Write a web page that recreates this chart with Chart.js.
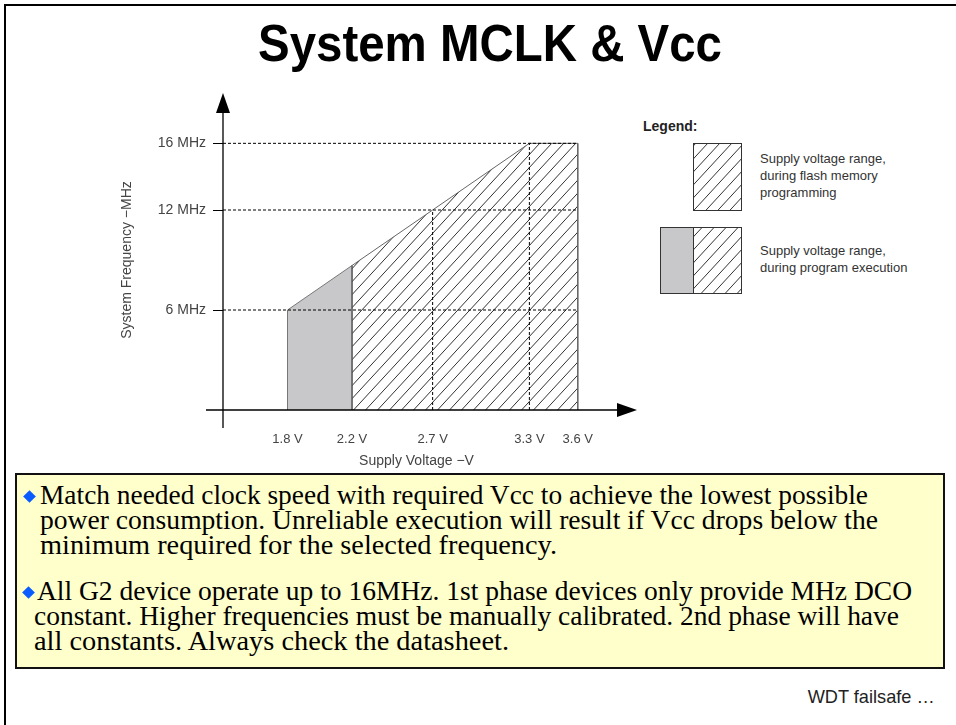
<!DOCTYPE html>
<html>
<head>
<meta charset="utf-8">
<script src="https://cdn.jsdelivr.net/npm/chart.js@4.4.1/dist/chart.umd.min.js"></script>
<style>
  html, body { margin: 0; padding: 0; background: #fff; }
  body { width: 956px; height: 725px; position: relative; overflow: hidden; font-family: "Liberation Sans", Arial, sans-serif; }
  #frame { position: absolute; left: 4px; top: 4px; width: 980px; height: 760px; border-left: 2px solid #000; border-top: 2px solid #000; }
  #chartBox { position: absolute; left: 0; top: 0; width: 956px; height: 725px; }
  .fit { position: absolute; display: inline-block; white-space: nowrap; transform-origin: left center; }
  #title { font: bold 52px/52px "Liberation Sans", Arial, sans-serif; color: #000; }
  .lg { font: 13px/17px "Liberation Sans", Arial, sans-serif; color: #333; position: absolute; left: 760px; white-space: nowrap; }
  #legendHead { position: absolute; left: 643px; top: 118px; font: bold 14px/17px "Liberation Sans", Arial, sans-serif; color: #222; }
  #note { position: absolute; left: 15px; top: 473px; width: 926px; height: 192px; background: #ffffcc; border: 2px solid #111; }
  .ln { font: 27px/25px "Liberation Serif", "Times New Roman", serif; color: #000; }
  .bullet { position: absolute; width: 9px; height: 9px; background: #0a5cff; transform: rotate(45deg); }
  #footer { font: 19px/19px "Liberation Sans", Arial, sans-serif; color: #222; transform-origin: right center; }
</style>
</head>
<body>
<div id="frame"></div>

<span id="title" class="fit" data-w="464" style="left:258px; top:17px;">System MCLK &amp; Vcc</span>

<div id="legendHead">Legend:</div>
<div class="lg" style="top:150px;">Supply voltage range,<br>during flash memory<br>programming</div>
<div class="lg" style="top:242px;">Supply voltage range,<br>during program execution</div>

<div id="note"></div>
<div class="bullet" style="left:25px; top:492px;"></div>
<span class="fit ln" data-w="828" style="left:40px; top:483px;">Match needed clock speed with required Vcc to achieve the lowest possible</span>
<span class="fit ln" data-w="838" style="left:40px; top:508px;">power consumption. Unreliable execution will result if Vcc drops below the</span>
<span class="fit ln" data-w="517" style="left:40px; top:533px;">minimum required for the selected frequency.</span>
<div class="bullet" style="left:24px; top:588px;"></div>
<span class="fit ln" data-w="875" style="left:37px; top:579px;">All G2 device operate up to 16MHz. 1st phase devices only provide MHz DCO</span>
<span class="fit ln" data-w="865" style="left:34px; top:604px;">constant. Higher frequencies must be manually calibrated. 2nd phase will have</span>
<span class="fit ln" data-w="475" style="left:34px; top:629px;">all constants. Always check the datasheet.</span>

<span id="footer" class="fit" data-w="127" style="right:21px; top:687px;">WDT failsafe …</span>

<div id="chartBox"><canvas id="mclk"></canvas></div>

<script>
// axis ticks
const xTicks = [1.8, 2.2, 2.7, 3.3, 3.6];
const yTicks = [6, 12, 16];

// upper edge of the operating area (MHz) at each supply voltage
const execVolts = [1.8, 2.2];
const execFreq = [6, 8.67];
const flashVolts = [2.2, 2.7, 3.3, 3.6];
const flashFreq = [8.67, 12, 16, 16];

// dashed guide lines
const guideFreq = [6, 12, 16];
const guideVolts = [2.7, 3.3];
const guideVoltsTop = [12, 16];

const axisVolt = 1.4;   // where the frequency axis crosses
const voltEnd = 3.6;

// fit condensed text to the widths of the slide
document.querySelectorAll(".fit").forEach(el => {
    const w = el.getBoundingClientRect().width;
    el.style.transform = "scaleX(" + (el.dataset.w / w) + ")";
});

function hatch(w, h, color) {
    const c = document.createElement("canvas");
    c.width = w;
    c.height = h;
    const g = c.getContext("2d");
    g.strokeStyle = color;
    g.lineWidth = 1;
    [[0, h, w, 0], [-w, h, w, -h], [0, 2 * h, 2 * w, 0]].forEach(([a, b, cc, d]) => {
        g.beginPath();
        g.moveTo(a, b);
        g.lineTo(cc, d);
        g.stroke();
    });
    return g.createPattern(c, "repeat");
}
const hatchFill = hatch(12, 13, "#333");

function area(volts, freq) {
    const pts = volts.map((v, i) => ({ x: v, y: freq[i] }));
    return [{ x: volts[0], y: 0 }, ...pts, { x: volts[volts.length - 1], y: 0 }];
}

const dash = { borderColor: "#000", borderWidth: 1, borderDash: [3, 2], pointRadius: 0, fill: false, order: 1 };
const guides = [
    ...guideFreq.map(f => ({ ...dash, data: [{ x: axisVolt, y: f }, { x: voltEnd, y: f }] })),
    ...guideVolts.map((v, i) => ({ ...dash, data: [{ x: v, y: 0 }, { x: v, y: guideVoltsTop[i] }] })),
];

const slideAxes = {
    id: "slideAxes",
    afterDatasetsDraw(chart) {
        const { ctx, chartArea, scales } = chart;
        const ax = scales.x.getPixelForValue(axisVolt);
        const ay = scales.y.getPixelForValue(0);
        ctx.save();
        ctx.strokeStyle = "#000";
        ctx.fillStyle = "#000";
        ctx.lineWidth = 1.3;
        ctx.beginPath();
        ctx.moveTo(ax, ay + 18);
        ctx.lineTo(ax, chartArea.top - 5);
        ctx.moveTo(ax - 17, ay);
        ctx.lineTo(chartArea.right + 15, ay);
        ctx.stroke();
        ctx.beginPath();
        ctx.moveTo(ax, chartArea.top - 17);
        ctx.lineTo(ax - 7, chartArea.top + 3);
        ctx.lineTo(ax + 7, chartArea.top + 3);
        ctx.closePath();
        ctx.fill();
        ctx.beginPath();
        ctx.moveTo(chartArea.right + 27, ay);
        ctx.lineTo(chartArea.right + 7, ay - 7);
        ctx.lineTo(chartArea.right + 7, ay + 7);
        ctx.closePath();
        ctx.fill();

        // legend swatches
        const boxes = [[693, 143, 48, 67, 0], [660, 227, 81, 66, 33]];
        boxes.forEach(([bx, by, bw, bh, gw]) => {
            ctx.fillStyle = "#c8c8cb";
            ctx.fillRect(bx, by, gw, bh);
            ctx.fillStyle = hatchFill;
            ctx.fillRect(bx + gw, by, bw - gw, bh);
            ctx.strokeStyle = "#333";
            ctx.lineWidth = 1;
            ctx.strokeRect(bx + 0.5, by + 0.5, bw, bh);
            if (gw) {
                ctx.beginPath();
                ctx.moveTo(bx + gw + 0.5, by);
                ctx.lineTo(bx + gw + 0.5, by + bh);
                ctx.stroke();
            }
        });
        ctx.restore();
    },
};

new Chart(document.getElementById("mclk"), {
    type: "line",
    data: {
        datasets: [
            ...guides,
            {
                data: area(execVolts, execFreq),
                borderColor: "#777",
                borderWidth: 1,
                backgroundColor: "#c8c8cb",
                fill: "origin",
                pointRadius: 0,
                order: 3,
            },
            {
                data: area(flashVolts, flashFreq),
                borderColor: "#666",
                borderWidth: 1,
                backgroundColor: hatchFill,
                fill: "origin",
                pointRadius: 0,
                order: 2,
            },
        ],
    },
    options: {
        responsive: true,
        maintainAspectRatio: false,
        animation: false,
        layout: { padding: { top: 110, right: 346, bottom: 255, left: 119 } },
        plugins: { legend: { display: false }, tooltip: { enabled: false } },
        scales: {
            x: {
                type: "linear",
                min: axisVolt,
                max: 3.8,
                afterFit: s => { s.height = 60; },
                afterBuildTicks: s => { s.ticks = xTicks.map(v => ({ value: v })); },
                grid: { display: false },
                border: { display: false },
                ticks: {
                    padding: 14,
                    color: "#444",
                    font: { family: "Liberation Sans", size: 13 },
                    callback: v => v + " V",
                },
                title: {
                    display: true,
                    text: "Supply Voltage −V",
                    color: "#444",
                    padding: 0,
                    font: { family: "Liberation Sans", size: 14 },
                },
            },
            y: {
                min: 0,
                max: 18,
                afterFit: s => { s.width = 104; },
                afterBuildTicks: s => { s.ticks = yTicks.map(v => ({ value: v })); },
                grid: { drawOnChartArea: false, tickLength: 10, color: "#000" },
                border: { display: false },
                ticks: {
                    padding: 7,
                    color: "#444",
                    font: { family: "Liberation Sans", size: 14 },
                    callback: v => v + " MHz",
                },
                title: {
                    display: true,
                    text: "System Frequency −MHz",
                    color: "#444",
                    padding: 0,
                    font: { family: "Liberation Sans", size: 14 },
                },
            },
        },
    },
    plugins: [slideAxes],
});
</script>
</body>
</html>
